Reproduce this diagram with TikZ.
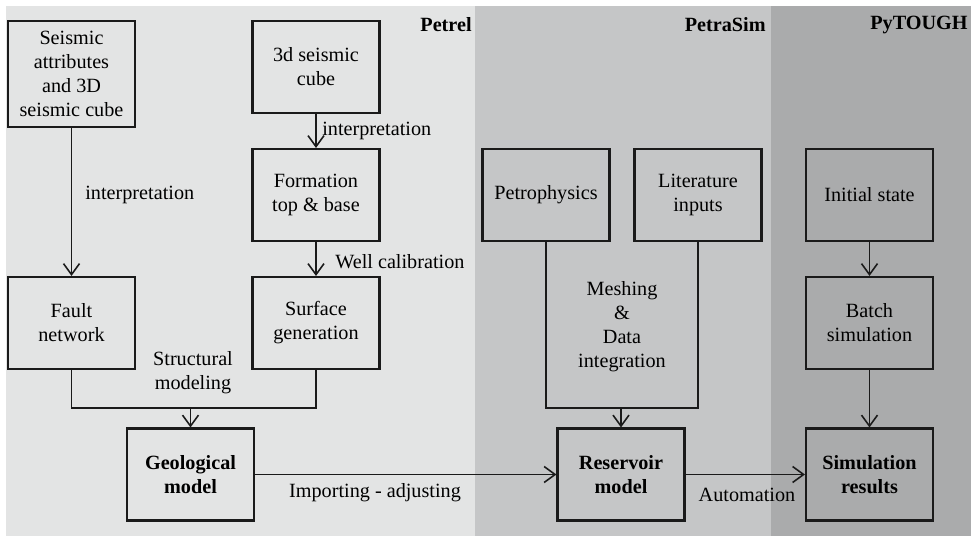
\documentclass[tikz,border=0pt]{standalone}
\usepackage{fontspec}
\setmainfont{Liberation Serif}
\usepackage{tikz}
\usetikzlibrary{
  arrows.meta,
  positioning,
  calc,
  backgrounds
}
\definecolor{wfPetrel}{HTML}{E3E4E4}
\definecolor{wfPetra}{HTML}{C5C6C7}
\definecolor{wfPyt}{HTML}{AAABAC}
\definecolor{wfLine}{HTML}{1A1A1A}

\tikzset{
  wfbox/.style={draw=wfLine, line width=1.2pt, align=center, inner sep=1pt,
    minimum width=2.54cm, minimum height=1.84cm},
  wfarrow/.style={draw=wfLine, line width=0.9pt, -{Straight Barb[length=2.2mm, width=3.2mm]}},
  wfline/.style={draw=wfLine, line width=0.9pt},
  wflabel/.style={align=center, inner sep=0pt},
  wfbold/.style={font=\fontsize{11.5}{13.7}\selectfont\bfseries},
  wftool/.style={wfbold, anchor=east, inner sep=0pt}
}

\begin{document}
\begin{tikzpicture}[x=0.02cm, y=-0.02cm,
    every node/.style={font=\fontsize{11.5}{13.7}\selectfont}]
  \useasboundingbox (0,0) rectangle (975,537);
  \fill[wfPetrel] (6,6) rectangle (475,536);
  \fill[wfPetra] (475,6) rectangle (771,536);
  \fill[wfPyt] (771,6) rectangle (971,536);

  \node[wftool] (tPetrel) at (472,25) {Petrel};
  \node[wftool] (tPetra) at (766,25) {PetraSim};
  \node[wftool] (tPyt) at (968,25) {PyTOUGH};

  \node[wfbox, minimum height=2.12cm] (attr) at (71.5,74) {Seismic\\attributes\\and 3D\\seismic cube};
  \node[wfbox] (cube) at (316,67) {3d seismic\\cube};
  \node[wfbox] (form) at (316,195) {Formation\\top \& base};
  \node[wfbox] (fault) at (71.5,323) {Fault\\network};
  \node[wfbox] (surf) at (316,323) {Surface\\generation};
  \node[wfbox, wfbold] (geo) at (190.5,474.5) {Geological\\model};

  \node[wfbox] (petro) at (546,195) {Petrophysics};
  \node[wfbox] (lit) at (698,195) {Literature\\inputs};
  \node[wfbox, wfbold] (res) at (621,474.5) {Reservoir\\model};

  \node[wfbox] (init) at (869.5,195) {Initial state};
  \node[wfbox] (batch) at (869.5,323) {Batch\\simulation};
  \node[wfbox, wfbold] (simres) at (869.5,474.5) {Simulation\\results};

  \coordinate (sjoin) at (190.5,408);
  \coordinate (mjoin) at (621,408);

  \draw[wfarrow] (attr) -- (fault);
  \draw[wfarrow] (cube) -- (form);
  \draw[wfarrow] (form) -- (surf);
  \draw[wfline] (fault.south) |- (sjoin) -| (surf.south);
  \draw[wfarrow] (sjoin) -- (geo);
  \draw[wfline] (petro.south) |- (mjoin) -| (lit.south);
  \draw[wfarrow] (mjoin) -- (res);
  \draw[wfarrow] (geo) -- (res);
  \draw[wfarrow] (res) -- (simres);
  \draw[wfarrow] (init) -- (batch);
  \draw[wfarrow] (batch) -- (simres);

  \node[wflabel, anchor=west] (lInterp) at (85,195) {interpretation};
  \node[wflabel, anchor=west] (lInterpB) at (322,131) {interpretation};
  \node[wflabel, anchor=west] (lWell) at (335,262) {Well calibration};
  \node[wflabel] (lStruct) at (193,373) {Structural\\modeling};
  \node[wflabel] (lImport) at (375,493) {Importing - adjusting};
  \node[wflabel] (lAuto) at (747,495) {Automation};
  \node[wflabel] (lMesh) at (622,327) {Meshing\\\&\\Data\\integration};
\end{tikzpicture}
\end{document}
